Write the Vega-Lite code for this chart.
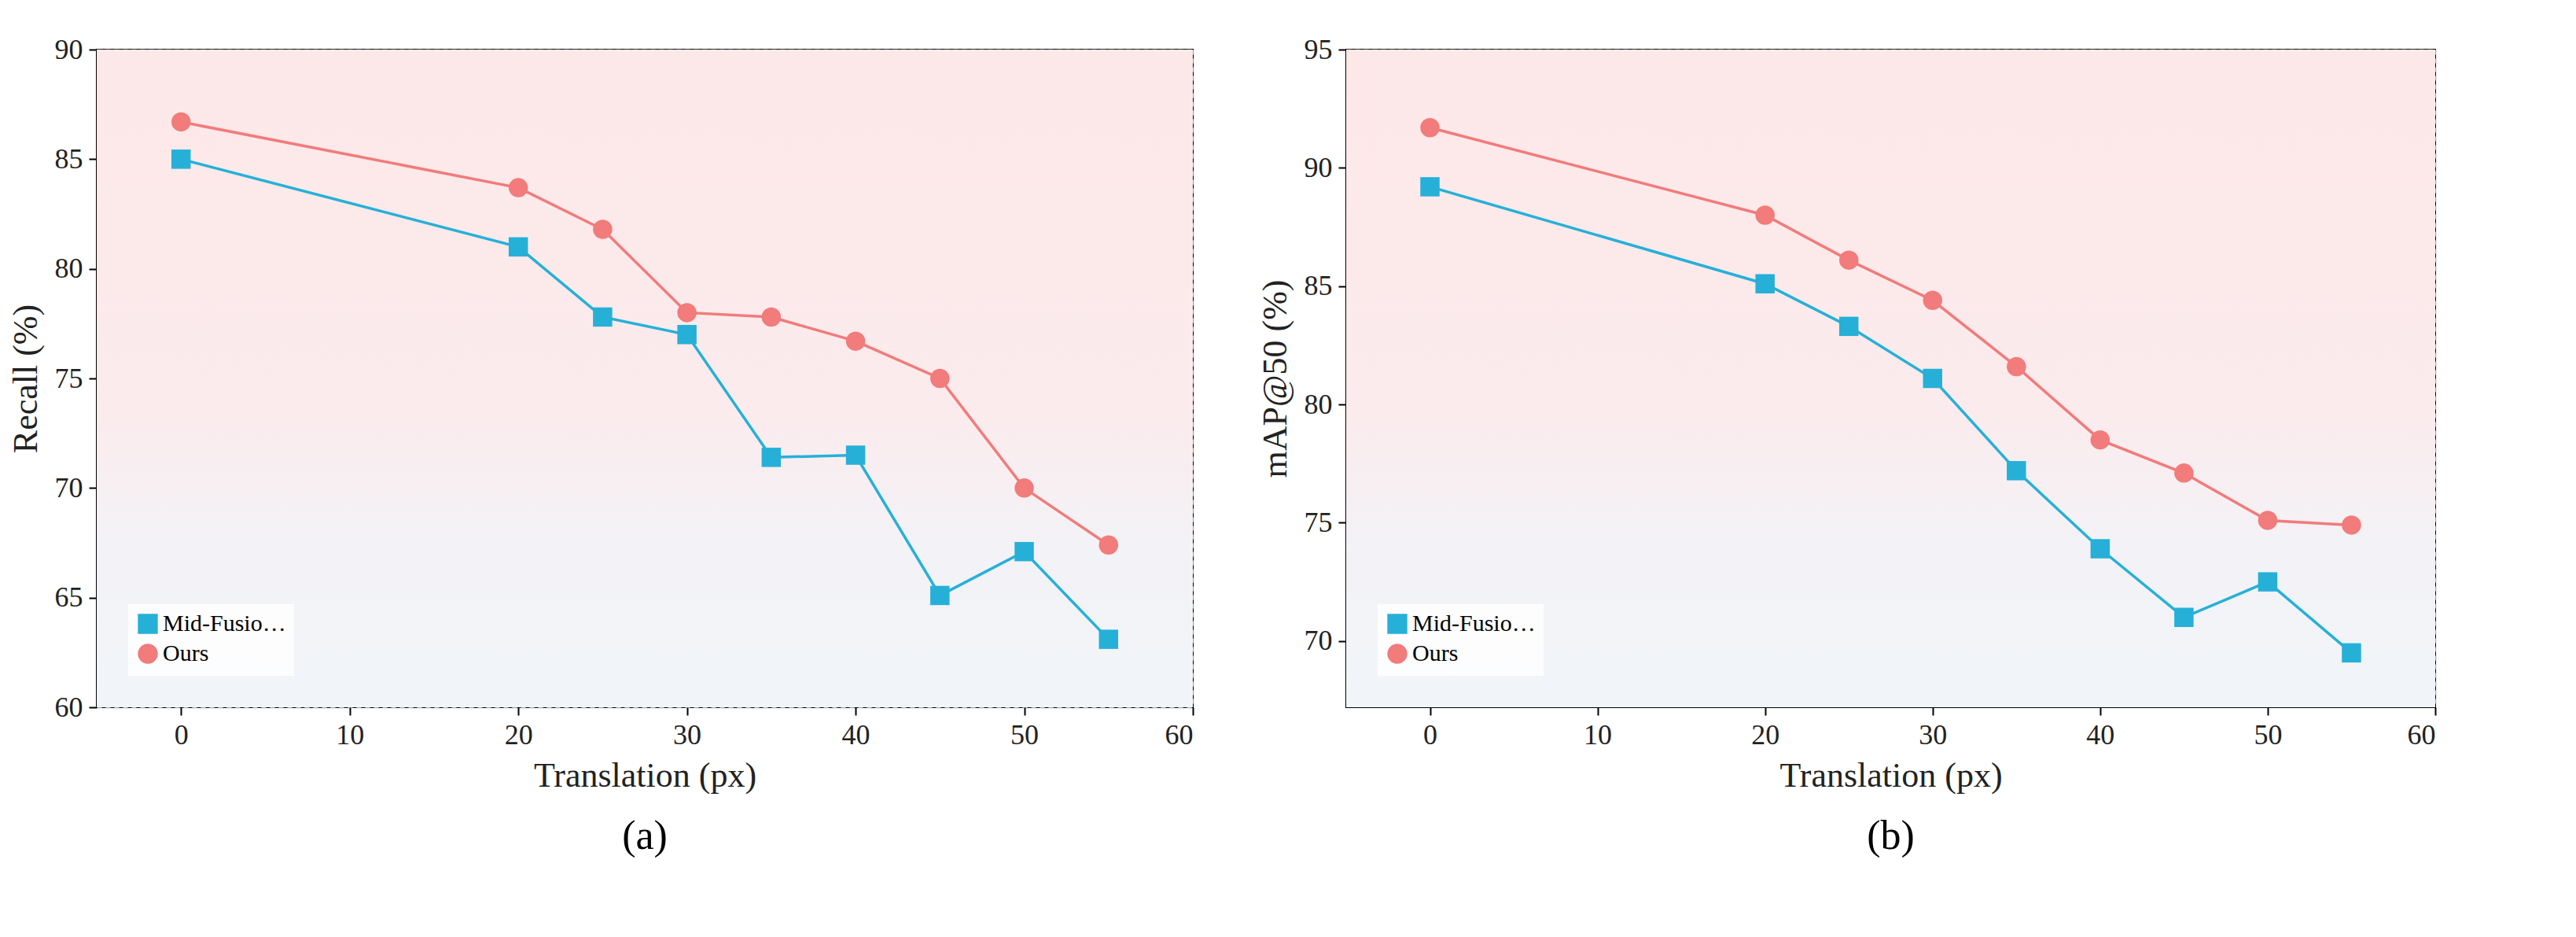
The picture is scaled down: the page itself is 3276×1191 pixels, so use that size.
{
"$schema":"https://vega.github.io/schema/vega-lite/v6.json",
"padding":{"left":10,"top":44,"right":20,"bottom":10},
"spacing":80,
"config":{"font":"Liberation Serif","view":{"stroke":"black","strokeWidth":2},
"axis":{"zindex":1,"labelFont":"Liberation Serif","titleFont":"Liberation Serif","labelFontSize":36,"titleFontSize":44,"titleFontWeight":"normal","labelColor":"#222","titleColor":"#222","gridDash":[6,5],"gridColor":"#aaa","gridWidth":1.5,"tickColor":"black","tickWidth":2,"tickSize":10,"domain":false,"labelPadding":8},
"title":{"font":"Liberation Serif","fontSize":52,"fontWeight":"normal","orient":"bottom","offset":30,"color":"black"},
"legend":{"labelFont":"Liberation Serif","labelFontSize":30,"orient":"bottom-left","offset":40,"fillColor":"#ffffffcc","padding":10,"symbolStrokeWidth":3}},
"datasets":{
"a":[
{"t":0,"v":85,"s":"Mid-Fusion-YOLO11n"},{"t":20,"v":81,"s":"Mid-Fusion-YOLO11n"},{"t":25,"v":77.8,"s":"Mid-Fusion-YOLO11n"},{"t":30,"v":77,"s":"Mid-Fusion-YOLO11n"},{"t":35,"v":71.4,"s":"Mid-Fusion-YOLO11n"},{"t":40,"v":71.5,"s":"Mid-Fusion-YOLO11n"},{"t":45,"v":65.1,"s":"Mid-Fusion-YOLO11n"},{"t":50,"v":67.1,"s":"Mid-Fusion-YOLO11n"},{"t":55,"v":63.1,"s":"Mid-Fusion-YOLO11n"},
{"t":0,"v":86.7,"s":"Ours"},{"t":20,"v":83.7,"s":"Ours"},{"t":25,"v":81.8,"s":"Ours"},{"t":30,"v":78,"s":"Ours"},{"t":35,"v":77.8,"s":"Ours"},{"t":40,"v":76.7,"s":"Ours"},{"t":45,"v":75,"s":"Ours"},{"t":50,"v":70,"s":"Ours"},{"t":55,"v":67.4,"s":"Ours"}],
"b":[
{"t":0,"v":89.2,"s":"Mid-Fusion-YOLO11n"},{"t":20,"v":85.1,"s":"Mid-Fusion-YOLO11n"},{"t":25,"v":83.3,"s":"Mid-Fusion-YOLO11n"},{"t":30,"v":81.1,"s":"Mid-Fusion-YOLO11n"},{"t":35,"v":77.2,"s":"Mid-Fusion-YOLO11n"},{"t":40,"v":73.9,"s":"Mid-Fusion-YOLO11n"},{"t":45,"v":71,"s":"Mid-Fusion-YOLO11n"},{"t":50,"v":72.5,"s":"Mid-Fusion-YOLO11n"},{"t":55,"v":69.5,"s":"Mid-Fusion-YOLO11n"},
{"t":0,"v":91.7,"s":"Ours"},{"t":20,"v":88,"s":"Ours"},{"t":25,"v":86.1,"s":"Ours"},{"t":30,"v":84.4,"s":"Ours"},{"t":35,"v":81.6,"s":"Ours"},{"t":40,"v":78.5,"s":"Ours"},{"t":45,"v":77.1,"s":"Ours"},{"t":50,"v":75.1,"s":"Ours"},{"t":55,"v":74.9,"s":"Ours"}],
"bga":[{"x":-5,"x2":60,"y":60,"y2":90}],
"bgb":[{"x":-5,"x2":60,"y":67.2,"y2":95}]
},
"hconcat":[
{"width":1394,"height":836,"title":"(a)",
"layer":[
{"data":{"name":"bga"},"mark":{"type":"rect","fill":{"gradient":"linear","x1":0,"y1":0,"x2":0,"y2":1,"stops":[{"offset":0,"color":"#fde8e8"},{"offset":0.55,"color":"#fbebed"},{"offset":0.75,"color":"#f3f2f6"},{"offset":1,"color":"#f1f5f9"}]}},
"encoding":{"x":{"field":"x","type":"quantitative","scale":{"domain":[-5,60],"nice":false,"zero":false}},"x2":{"field":"x2"},"y":{"field":"y","type":"quantitative","scale":{"domain":[60,90],"nice":false,"zero":false}},"y2":{"field":"y2"}}},
{"data":{"name":"a"},"mark":{"type":"line","strokeWidth":3.5},
"encoding":{"x":{"field":"t","type":"quantitative","scale":{"domain":[-5,60],"nice":false,"zero":false},"axis":{"values":[0,10,20,30,40,50,60],"title":"Translation (px)","titlePadding":12}},
"y":{"field":"v","type":"quantitative","scale":{"domain":[60,90],"nice":false,"zero":false},"axis":{"values":[60,65,70,75,80,85,90],"title":"Recall (%)","titlePadding":14}},
"color":{"field":"s","type":"nominal","scale":{"domain":["Mid-Fusion-YOLO11n","Ours"],"range":["#26b0d8","#f27b7b"]},"legend":{"title":null,"symbolSize":500}}}},
{"data":{"name":"a"},"mark":{"type":"point","filled":true,"strokeWidth":1.5,"opacity":1},
"encoding":{"x":{"field":"t","type":"quantitative"},"y":{"field":"v","type":"quantitative"},
"color":{"field":"s","type":"nominal","scale":{"domain":["Mid-Fusion-YOLO11n","Ours"],"range":["#26b0d8","#f27b7b"]},"legend":{"title":null,"symbolSize":500}},
"shape":{"field":"s","type":"nominal","scale":{"domain":["Mid-Fusion-YOLO11n","Ours"],"range":["square","circle"]},"legend":{"title":null}},
"size":{"value":600}}}
]},
{"width":1385,"height":836,"title":"(b)",
"layer":[
{"data":{"name":"bgb"},"mark":{"type":"rect","fill":{"gradient":"linear","x1":0,"y1":0,"x2":0,"y2":1,"stops":[{"offset":0,"color":"#fde8e8"},{"offset":0.55,"color":"#fbebed"},{"offset":0.75,"color":"#f3f2f6"},{"offset":1,"color":"#f1f5f9"}]}},
"encoding":{"x":{"field":"x","type":"quantitative","scale":{"domain":[-5,60],"nice":false,"zero":false}},"x2":{"field":"x2"},"y":{"field":"y","type":"quantitative","scale":{"domain":[67.2,95],"nice":false,"zero":false}},"y2":{"field":"y2"}}},
{"data":{"name":"b"},"mark":{"type":"line","strokeWidth":3.5},
"encoding":{"x":{"field":"t","type":"quantitative","scale":{"domain":[-5,60],"nice":false,"zero":false},"axis":{"values":[0,10,20,30,40,50,60],"title":"Translation (px)","titlePadding":12}},
"y":{"field":"v","type":"quantitative","scale":{"domain":[67.2,95],"nice":false,"zero":false},"axis":{"values":[70,75,80,85,90,95],"title":"mAP@50 (%)","titlePadding":14}},
"color":{"field":"s","type":"nominal","scale":{"domain":["Mid-Fusion-YOLO11n","Ours"],"range":["#26b0d8","#f27b7b"]},"legend":{"title":null,"symbolSize":500}}}},
{"data":{"name":"b"},"mark":{"type":"point","filled":true,"strokeWidth":1.5,"opacity":1},
"encoding":{"x":{"field":"t","type":"quantitative"},"y":{"field":"v","type":"quantitative"},
"color":{"field":"s","type":"nominal","scale":{"domain":["Mid-Fusion-YOLO11n","Ours"],"range":["#26b0d8","#f27b7b"]},"legend":{"title":null,"symbolSize":500}},
"shape":{"field":"s","type":"nominal","scale":{"domain":["Mid-Fusion-YOLO11n","Ours"],"range":["square","circle"]},"legend":{"title":null}},
"size":{"value":600}}}
]}
],
"resolve":{"scale":{"y":"independent","color":"independent","shape":"independent"},"legend":{"color":"independent","shape":"independent"}}
}
